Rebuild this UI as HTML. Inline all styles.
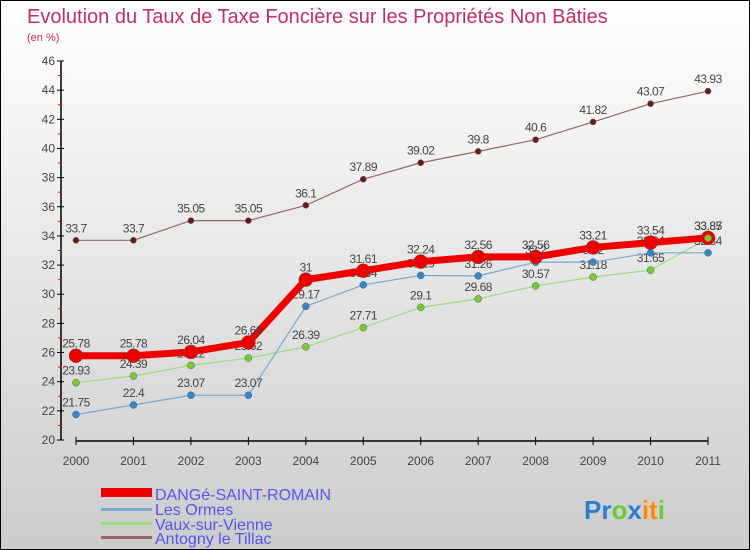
<!DOCTYPE html>
<html><head><meta charset="utf-8"><style>
body{margin:0}
#c{width:748px;height:548px;border:1px solid #000;background:linear-gradient(#fff,#ccc);position:relative;font-family:"Liberation Sans",sans-serif;overflow:hidden}
svg text{font-family:"Liberation Sans",sans-serif}
</style></head><body>
<div id="c">
<svg id="s" width="748" height="548">
<text x="26" y="22" font-size="20" fill="#c0305a">Evolution du Taux de Taxe Foncière sur les Propriétés Non Bâties</text>
<text x="26" y="40" font-size="11" fill="#c0305a">(en %)</text>
<g id="ax"></g><g id="ser"></g>
<g font-size="16" fill="#5555ee">
<rect x="100" y="487" width="51" height="9" fill="#e00"/>
<text x="154" y="499">DANGé-SAINT-ROMAIN</text>
<rect x="100" y="507" width="51" height="3" fill="#7aa8cc"/>
<text x="154" y="514">Les Ormes</text>
<rect x="100" y="521" width="51" height="3" fill="#99dd77"/>
<text x="154" y="529">Vaux-sur-Vienne</text>
<rect x="100" y="535" width="51" height="3" fill="#996666"/>
<text x="154" y="543">Antogny le Tillac</text>
</g>
<text x="583" y="518" font-size="26" font-weight="bold"><tspan fill="#2a7fd0">Pr</tspan><tspan fill="#6c3">o</tspan><tspan fill="#2a7fd0">x</tspan><tspan fill="#f80">it</tspan><tspan fill="#6c3">i</tspan></text>
</svg></div>
<script>
const years=[2000,2001,2002,2003,2004,2005,2006,2007,2008,2009,2010,2011];
const dange=[25.78,25.78,26.04,26.69,31,31.61,32.24,32.56,32.56,33.21,33.54,33.87];
const ormes=[21.75,22.4,23.07,23.07,29.17,30.64,31.29,31.26,32.2,32.2,32.84,32.84];
const vaux=[23.93,24.39,25.12,25.62,26.39,27.71,29.1,29.68,30.57,31.18,31.65,33.85];
const antogny=[33.7,33.7,35.05,35.05,36.1,37.89,39.02,39.8,40.6,41.82,43.07,43.93];
const yTicks=[20,22,24,26,28,30,32,34,36,38,40,42,44,46];
const NS="http://www.w3.org/2000/svg";
const X=i=>75+i*(632/11), Y=v=>439-(v-20)*(379/26);
function mk(t,a,p){const e=document.createElementNS(NS,t);for(const k in a)e.setAttribute(k,a[k]);p.appendChild(e);return e;}
const ax=document.getElementById('ax');
let l=mk('line',{x1:60,y1:Y(46),x2:60,y2:Y(20),stroke:'#000','stroke-width':1.5},ax);


l=mk('line',{x1:X(0),y1:440,x2:X(11),y2:440,stroke:'#000','stroke-width':1.5},ax);


yTicks.forEach(v=>{
 mk('line',{x1:56,x2:63,y1:Y(v),y2:Y(v),stroke:'#000'},ax);
 if(v<46)mk('line',{x1:57,x2:61,y1:Y(v+1),y2:Y(v+1),stroke:'#e00'},ax);
 const t=mk('text',{x:54,y:Y(v)+4,'font-size':12,fill:'#444','text-anchor':'end'},ax);t.textContent=v;
 
 
});
years.forEach((y,i)=>{
 mk('line',{x1:X(i),x2:X(i),y1:436,y2:444,stroke:'#000'},ax);
 const t=mk('text',{x:X(i),y:464,'font-size':12,fill:'#444','text-anchor':'middle'},ax);t.textContent=y;
 
 
});
const ser=document.getElementById('ser');
function draw(vals,name,color,w,r,dot){
 const g=mk('g',{},ser);
 
 
 mk('polyline',{points:vals.map((v,i)=>X(i)+','+Y(v)).join(' '),fill:'none',stroke:color,'stroke-width':w,'stroke-linejoin':'round'},g);
 vals.forEach((v,i)=>{
  const c=mk('circle',{cx:X(i),cy:Y(v),r:r,fill:dot,stroke:'#555','stroke-width':0.5},g);
  
  
  const t=mk('text',{x:X(i),y:Y(v)-8,'font-size':12,fill:'#444','text-anchor':'middle','letter-spacing':'-0.5'},g);t.textContent=v;
 });
}
draw(antogny,'antogny','#996666',1.2,3,'#6b1a1a');
draw(vaux,'vaux','#99dd77',1.2,3.5,'#77cc33');
draw(ormes,'ormes','#7aa8cc',1.2,3.5,'#3388cc');
draw(dange,'dange','#ee0000',7,7,'#ee0000');
const c=mk('circle',{cx:X(11),cy:Y(vaux[11]),r:3.5,fill:'#77cc33'},ser);


</script>
</body></html>
